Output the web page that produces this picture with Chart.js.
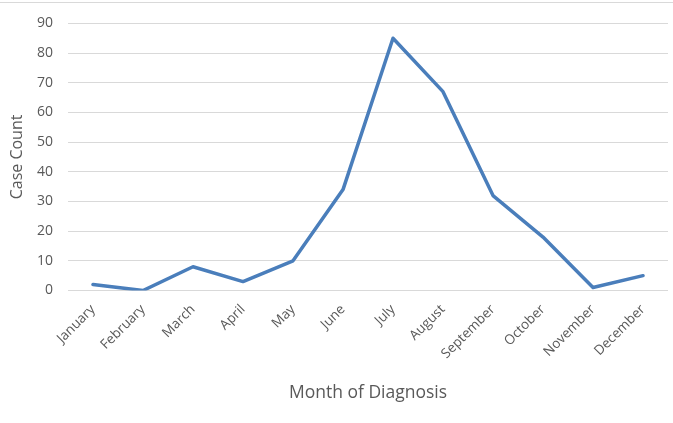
<!DOCTYPE html>
<html>
<head>
<meta charset="utf-8">
<script src="https://cdn.jsdelivr.net/npm/chart.js@4/dist/chart.umd.min.js"></script>
<style>
  html, body { margin: 0; padding: 0; background: #fff; }
  #wrap { position: relative; width: 673px; height: 423px; }
  #topline { position: absolute; left: 0; top: 2px; width: 673px; height: 1px; background: #d9d9d9; }
  canvas { position: absolute; left: 0; top: 0; }
</style>
</head>
<body>
<div id="wrap">
  <canvas id="c" width="673" height="423"></canvas>
  <div id="topline"></div>
</div>
<script>
const months = ["January", "February", "March", "April", "May", "June", "July", "August", "September", "October", "November", "December"];
const caseCounts = [2, 0, 8, 3, 10, 34, 85, 67, 32, 18, 1, 5];
const yTicks = [0, 10, 20, 30, 40, 50, 60, 70, 80, 90];
const xTitle = "Month of Diagnosis";
const yTitle = "Case Count";

const FONT = "'Open Sans', sans-serif";
const GRAY = "#595959";

new Chart(document.getElementById("c"), {
  type: "line",
  data: {
    labels: months,
    datasets: [{
      data: caseCounts,
      borderColor: "#4a7ebb",
      borderWidth: 3.5,
      borderJoinStyle: "round",
      borderCapStyle: "round",
      pointRadius: 0,
      tension: 0,
      fill: false
    }]
  },
  options: {
    responsive: false,
    animation: false,
    devicePixelRatio: 1,
    layout: { padding: { left: 0, right: 5, top: 23, bottom: 18 } },
    plugins: { legend: { display: false }, tooltip: { enabled: false } },
    scales: {
      x: {
        offset: true,
        grid: { display: false, drawTicks: false },
        border: { display: false },
        ticks: {
          color: GRAY,
          font: { family: FONT, size: 13.5 },
          maxRotation: 45, minRotation: 45,
          padding: 11,
          autoSkip: false
        },
        title: {
          display: true, text: xTitle, color: GRAY,
          font: { family: FONT, size: 17.5 },
          padding: { top: 0, bottom: 1 }
        },
        afterFit(s) { s.height = 423 - 290.5 - 18; }
      },
      y: {
        min: 0, max: 90,
        afterBuildTicks(s) { s.ticks = yTicks.map(v => ({ value: v })); },
        grid: { color: "#d9d9d9", lineWidth: 1, drawTicks: false },
        border: { display: false },
        ticks: {
          color: GRAY,
          font: { family: FONT, size: 14 },
          padding: 15
        },
        title: {
          display: true, text: yTitle, color: GRAY,
          font: { family: FONT, size: 16 },
          padding: { top: 8, bottom: 0 }
        },
        afterFit(s) { s.width = 68; }
      }
    }
  }
});
</script>
</body>
</html>
